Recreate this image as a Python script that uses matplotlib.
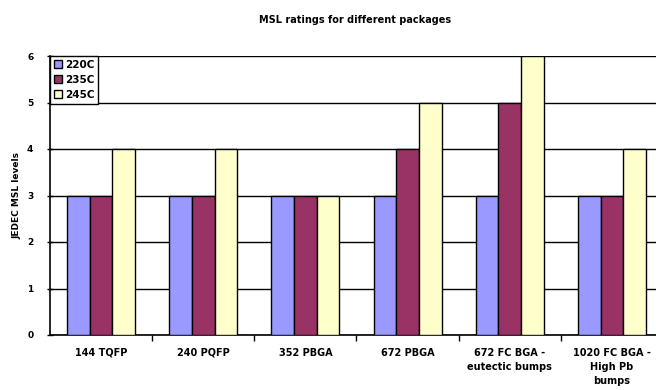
import numpy as np
import matplotlib
matplotlib.use("Agg")
import matplotlib.pyplot as plt

# MSL rating per package at each reflow peak temperature
packages = ["144 TQFP", "240 PQFP", "352 PBGA", "672 PBGA",
            "672 FC BGA -\neutectic bumps", "1020 FC BGA -\nHigh Pb\nbumps"]
series_names = ["220C", "235C", "245C"]
msl_220 = [3, 3, 3, 3, 3, 3]
msl_235 = [3, 3, 3, 4, 5, 3]
msl_245 = [4, 4, 3, 5, 6, 4]
y_ticks = [0, 1, 2, 3, 4, 5, 6]

colors = ["#9999FF", "#993366", "#FFFFCC"]

plt.rcParams["font.family"] = ["DejaVu Sans"]

fig = plt.figure(figsize=(6.56, 3.90), dpi=100)
ax = fig.add_axes([50 / 656, 1 - 335 / 390, 613 / 656, (335 - 56) / 390])

x = np.arange(len(packages))
w = 0.222
for k, (vals, name, c) in enumerate(zip([msl_220, msl_235, msl_245], series_names, colors)):
    ax.bar(x + (k - 1) * w, vals, width=w, color=c, edgecolor="black",
           linewidth=1.0, label=name, zorder=3)

ax.set_xlim(-0.5, len(packages) - 0.5)
ax.set_ylim(0, 6)
ax.set_yticks(y_ticks)
ax.set_yticklabels([str(t) for t in y_ticks], fontsize=6.5, fontweight="bold")
ax.yaxis.grid(True, color="black", linewidth=1.0, zorder=0)
ax.set_axisbelow(True)

# category labels centred, ticks between categories
ax.set_xticks(x)
ax.set_xticklabels(packages, fontsize=7, fontweight="bold", linespacing=1.5)
ax.tick_params(axis="x", length=0, pad=9)
ax.set_xticks(np.arange(len(packages)) + 0.5, minor=True)
ax.tick_params(axis="x", which="minor", length=4, width=1, direction="out", color="black")
ax.tick_params(axis="y", length=4, width=1, direction="inout", pad=10, color="black")

for side in ["top", "right"]:
    ax.spines[side].set_visible(False)
ax.spines["left"].set_linewidth(1.2)
ax.spines["bottom"].set_linewidth(1.2)

ax.set_ylabel("JEDEC MSL levels", fontsize=6.5, fontweight="bold", labelpad=4)

leg = ax.legend(loc="upper left", bbox_to_anchor=(0.0, 1.0), fontsize=7.5,
                frameon=True, fancybox=False, edgecolor="black",
                handlelength=0.8, handleheight=0.8, handletextpad=0.3,
                borderpad=0.35, labelspacing=0.5, borderaxespad=0)
leg.get_frame().set_linewidth(1.0)
leg.get_frame().set_alpha(1.0)
leg.set_zorder(5)
for t in leg.get_texts():
    t.set_fontweight("bold")

fig.text(355 / 656, 1 - 20 / 390, "MSL ratings for different packages",
         ha="center", va="center", fontsize=7, fontweight="bold")

fig.savefig("out.png", dpi=100)
